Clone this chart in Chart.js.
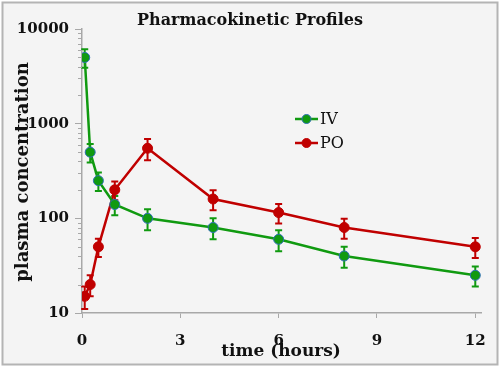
<!DOCTYPE html>
<html>
<head>
<meta charset="utf-8">
<script src="https://cdn.jsdelivr.net/npm/chart.js@4/dist/chart.umd.min.js"></script>
<style>
  html, body { margin: 0; padding: 0; background: #fff; }
  #wrap { width: 500px; height: 367px; }
</style>
</head>
<body>
<div id="wrap"><canvas id="chart" width="500" height="367"></canvas></div>
<script>
// sampling times (hours)
const times = [0.083, 0.25, 0.5, 1, 2, 4, 6, 8, 12];
const ivValues = [5000, 500, 250, 140, 100, 80, 60, 40, 25];
const ivErrors = [1100, 110, 55, 32, 25, 20, 15, 10, 6];
const poValues = [15, 20, 50, 200, 550, 160, 115, 80, 50];
const poErrors = [4, 5, 11, 45, 140, 38, 27, 19, 12];
const xTicks = [0, 3, 6, 9, 12];
const yTicks = [10, 100, 1000, 10000];

const GREEN = '#109a10';
const RED = '#c00000';
const SERIF = '"DejaVu Serif", "Liberation Serif", serif';

const toPoints = vals => vals.map((v, i) => ({ x: times[i], y: v }));

// frame, titles, minor log ticks, legend
const decor = {
  id: 'decor',
  beforeDraw(chart) {
    const ctx = chart.ctx;
    ctx.save();
    ctx.fillStyle = '#ffffff';
    ctx.fillRect(0, 0, chart.width, chart.height);
    ctx.fillStyle = '#f4f4f4';
    ctx.fillRect(2.5, 2.5, 495, 362);
    ctx.strokeStyle = '#b4b4b4';
    ctx.lineWidth = 2;
    ctx.strokeRect(2.5, 2.5, 495, 362);
    ctx.restore();
  },
  afterDraw(chart) {
    const ctx = chart.ctx;
    const y = chart.scales.y;
    const left = chart.chartArea.left;
    ctx.save();
    // minor ticks on the log axis
    ctx.strokeStyle = '#a8a8a8';
    ctx.lineWidth = 1;
    for (let d = 10; d < 10000; d *= 10) {
      for (let k = 2; k <= 9; k++) {
        const py = Math.round(y.getPixelForValue(d * k)) + 0.5;
        ctx.beginPath();
        ctx.moveTo(left - 4, py);
        ctx.lineTo(left, py);
        ctx.stroke();
      }
    }
    ctx.fillStyle = '#111';
    ctx.textAlign = 'center';
    ctx.textBaseline = 'middle';
    ctx.font = 'bold 16px ' + SERIF;
    ctx.fillText('Pharmacokinetic Profiles', 250, 21);
    ctx.font = 'bold 17px ' + SERIF;
    ctx.fillText('time (hours)', 281, 352);
    ctx.font = 'bold 18px ' + SERIF;
    ctx.save();
    ctx.translate(23, 172);
    ctx.rotate(-Math.PI / 2);
    ctx.fillText('plasma concentration', 0, 0);
    ctx.restore();
    // legend
    ctx.textAlign = 'left';
    ctx.font = '16px ' + SERIF;
    chart.data.datasets.forEach((ds, i) => {
      const ly = 119 + i * 24;
      ctx.strokeStyle = ds.borderColor;
      ctx.lineWidth = 2.5;
      ctx.beginPath();
      ctx.moveTo(295, ly);
      ctx.lineTo(318, ly);
      ctx.stroke();
      ctx.beginPath();
      ctx.arc(306.5, ly, 4.5, 0, Math.PI * 2);
      ctx.fillStyle = ds.pointBackgroundColor;
      ctx.fill();
      ctx.lineWidth = 1;
      ctx.strokeStyle = ds.pointBorderColor;
      ctx.stroke();
      ctx.fillStyle = '#111';
      ctx.fillText(ds.label, 320, ly + 1);
    });
    ctx.restore();
  }
};

// vertical error bars with caps
const errorBars = {
  id: 'errorBars',
  beforeDatasetsDraw(chart) {
    const ctx = chart.ctx;
    const xs = chart.scales.x, ys = chart.scales.y;
    ctx.save();
    chart.data.datasets.forEach(ds => {
      ctx.strokeStyle = ds.borderColor;
      ctx.lineWidth = 2;
      ds.data.forEach((p, i) => {
        const e = ds.errors[i];
        const px = xs.getPixelForValue(p.x);
        const top = ys.getPixelForValue(p.y + e);
        const bot = ys.getPixelForValue(Math.max(p.y - e, 1));
        ctx.beginPath();
        ctx.moveTo(px, top); ctx.lineTo(px, bot);
        ctx.moveTo(px - 3.5, top); ctx.lineTo(px + 3.5, top);
        ctx.moveTo(px - 3.5, bot); ctx.lineTo(px + 3.5, bot);
        ctx.stroke();
      });
    });
    ctx.restore();
  }
};

new Chart(document.getElementById('chart'), {
  type: 'line',
  data: {
    datasets: [
      {
        label: 'IV',
        data: toPoints(ivValues),
        errors: ivErrors,
        borderColor: GREEN,
        backgroundColor: GREEN,
        pointBackgroundColor: GREEN,
        pointBorderColor: '#2f6fb8',
        pointBorderWidth: 1,
        pointRadius: 5,
        borderWidth: 2.5,
        tension: 0
      },
      {
        label: 'PO',
        data: toPoints(poValues),
        errors: poErrors,
        borderColor: RED,
        backgroundColor: RED,
        pointBackgroundColor: RED,
        pointBorderColor: RED,
        pointBorderWidth: 1,
        pointRadius: 5,
        borderWidth: 2.5,
        tension: 0
      }
    ]
  },
  options: {
    responsive: false,
    animation: false,
    layout: { padding: { top: 29, right: 17, bottom: 0, left: 0 } },
    plugins: {
      legend: { display: false },
      title: { display: false },
      tooltip: { enabled: false }
    },
    scales: {
      x: {
        type: 'linear',
        min: 0,
        max: 12.2,
        afterBuildTicks: s => { s.ticks = xTicks.map(v => ({ value: v })); },
        afterFit: s => { s.height = 54; },
        grid: { drawOnChartArea: false, tickLength: 5, color: '#a8a8a8' },
        border: { color: '#a8a8a8', width: 1.5 },
        ticks: {
          padding: 14,
          color: '#111',
          font: { family: SERIF, weight: 'bold', size: 15 }
        }
      },
      y: {
        type: 'logarithmic',
        min: 10,
        max: 10000,
        afterBuildTicks: s => { s.ticks = yTicks.map(v => ({ value: v })); },
        afterFit: s => { s.width = 82; },
        grid: { drawOnChartArea: false, tickLength: 7, color: '#a8a8a8' },
        border: { color: '#a8a8a8', width: 1.5 },
        ticks: {
          padding: 6,
          color: '#111',
          callback: v => String(v),
          font: { family: SERIF, weight: 'bold', size: 15 }
        }
      }
    }
  },
  plugins: [decor, errorBars]
});
</script>
</body>
</html>
